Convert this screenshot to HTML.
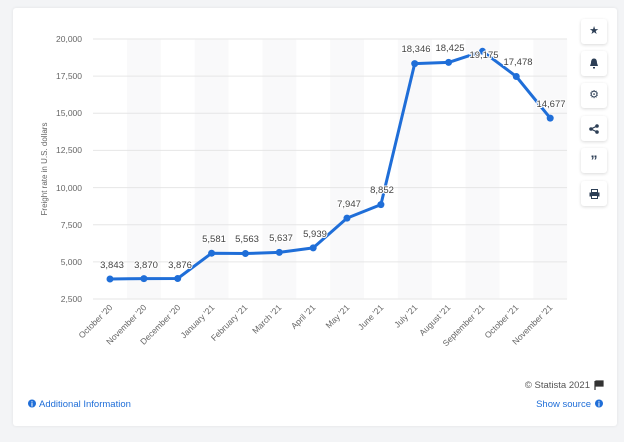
<!DOCTYPE html>
<html><head><meta charset="utf-8"><style>
body{margin:0;width:624px;height:442px;background:#f3f4f6;font-family:"Liberation Sans",sans-serif;overflow:hidden}
.card{position:absolute;left:13px;top:8px;width:604px;height:418px;background:#fff;border-radius:3px;box-shadow:0 0 3px rgba(0,0,0,.08)}
.btn{position:absolute;left:581px;width:26px;height:25px;background:#fff;border-radius:3px;box-shadow:0 1px 3px rgba(0,0,0,.15);color:#2c3e55;font-size:11px;text-align:center;line-height:25px}
</style></head><body>
<div class="card"></div>
<svg width="624" height="442" style="position:absolute;left:0;top:0" font-family="Liberation Sans, sans-serif">
<g fill="#f9f9fa">
<rect x="127" y="39" width="33.9" height="260"/><rect x="194.7" y="39" width="33.9" height="260"/><rect x="262.4" y="39" width="33.9" height="260"/><rect x="330.1" y="39" width="33.9" height="260"/><rect x="397.9" y="39" width="33.9" height="260"/><rect x="465.6" y="39" width="33.9" height="260"/><rect x="533.3" y="39" width="33.9" height="260"/>
</g>
<g stroke="#e6e6e6" stroke-width="1">
<line x1="93" x2="567" y1="39" y2="39"/><line x1="93" x2="567" y1="76.1" y2="76.1"/><line x1="93" x2="567" y1="113.3" y2="113.3"/><line x1="93" x2="567" y1="150.4" y2="150.4"/><line x1="93" x2="567" y1="187.6" y2="187.6"/><line x1="93" x2="567" y1="224.7" y2="224.7"/><line x1="93" x2="567" y1="261.9" y2="261.9"/><line x1="93" x2="567" y1="299" y2="299"/>
</g>
<g font-size="8.5" fill="#666" text-anchor="end">
<text x="82" y="42">20,000</text><text x="82" y="79">17,500</text><text x="82" y="116">15,000</text><text x="82" y="153">12,500</text><text x="82" y="191">10,000</text><text x="82" y="228">7,500</text><text x="82" y="265">5,000</text><text x="82" y="302">2,500</text>
</g>
<text transform="translate(47,169) rotate(-90)" font-size="8" fill="#666" text-anchor="middle">Freight rate in U.S. dollars</text>
<polyline fill="none" stroke="#1f6ed8" stroke-width="3" stroke-linejoin="round" points="110,279 143.9,278.6 177.7,278.5 211.6,253.2 245.4,253.5 279.3,252.4 313.2,247.9 347,218.1 380.9,204.6 414.7,63.6 448.6,62.4 482.5,51.3 516.3,76.5 550.2,118.1"/>
<g fill="#1f6ed8">
<circle cx="110" cy="279" r="3.5"/><circle cx="143.9" cy="278.6" r="3.5"/><circle cx="177.7" cy="278.5" r="3.5"/><circle cx="211.6" cy="253.2" r="3.5"/><circle cx="245.4" cy="253.5" r="3.5"/><circle cx="279.3" cy="252.4" r="3.5"/><circle cx="313.2" cy="247.9" r="3.5"/><circle cx="347" cy="218.1" r="3.5"/><circle cx="380.9" cy="204.6" r="3.5"/><circle cx="414.7" cy="63.6" r="3.5"/><circle cx="448.6" cy="62.4" r="3.5"/><circle cx="482.5" cy="51.3" r="3.5"/><circle cx="516.3" cy="76.5" r="3.5"/><circle cx="550.2" cy="118.1" r="3.5"/>
</g>
<g font-size="9.5" fill="#444" text-anchor="middle" stroke="#fff" stroke-width="2" paint-order="stroke">
<text x="112" y="268">3,843</text><text x="146" y="268">3,870</text><text x="180" y="268">3,876</text><text x="214" y="242">5,581</text><text x="247" y="242">5,563</text><text x="281" y="241">5,637</text><text x="315" y="237">5,939</text><text x="349" y="207">7,947</text><text x="382" y="193">8,852</text><text x="416" y="52">18,346</text><text x="450" y="51">18,425</text><text x="484" y="58">19,175</text><text x="518" y="65">17,478</text><text x="551" y="107">14,677</text>
</g>
<g font-size="8.5" fill="#666" text-anchor="end">
<text transform="translate(113,308) rotate(-45)">October '20</text>
<text transform="translate(147,308) rotate(-45)">November '20</text>
<text transform="translate(181,308) rotate(-45)">December '20</text>
<text transform="translate(215,308) rotate(-45)">January '21</text>
<text transform="translate(248,308) rotate(-45)">February '21</text>
<text transform="translate(282,308) rotate(-45)">March '21</text>
<text transform="translate(316,308) rotate(-45)">April '21</text>
<text transform="translate(350,308) rotate(-45)">May '21</text>
<text transform="translate(384,308) rotate(-45)">June '21</text>
<text transform="translate(418,308) rotate(-45)">July '21</text>
<text transform="translate(451,308) rotate(-45)">August '21</text>
<text transform="translate(485,308) rotate(-45)">September '21</text>
<text transform="translate(519,308) rotate(-45)">October '21</text>
<text transform="translate(553,308) rotate(-45)">November '21</text>
</g>
<text x="590" y="388" font-size="9.5" fill="#555" text-anchor="end">© Statista 2021</text>
<path d="M595 381v9M596 381h7v5h-7z" stroke="#333" fill="#333" stroke-width="1.2"/>
<circle cx="32" cy="403.5" r="4" fill="#1f6ed8"/><text x="32" y="406.5" font-size="7" font-weight="bold" fill="#fff" text-anchor="middle">i</text>
<text x="39" y="407" font-size="9.5" fill="#1f6ed8">Additional Information</text>
<text x="591" y="407" font-size="9.5" fill="#1f6ed8" text-anchor="end">Show source</text>
<circle cx="599" cy="403.5" r="4" fill="#1f6ed8"/><text x="599" y="406.5" font-size="7" font-weight="bold" fill="#fff" text-anchor="middle">i</text>
</svg>
<div class="btn" style="top:19px">★</div>
<div class="btn" style="top:51px"><svg width="10" height="11" style="margin-top:7px"><path d="M5 0.5C2.5 0.5 2 3 2 5L1 8H9L8 5C8 3 7.5 0.5 5 0.5ZM4 9h2v1.5h-2z" fill="#2c3e55"/></svg></div>
<div class="btn" style="top:83px">⚙</div>
<div class="btn" style="top:116px"><svg width="10" height="10" style="margin-top:8px"><circle cx="8" cy="2" r="1.8" fill="#2c3e55"/><circle cx="2" cy="5" r="1.8" fill="#2c3e55"/><circle cx="8" cy="8" r="1.8" fill="#2c3e55"/><path d="M8 2L2 5L8 8" stroke="#2c3e55" fill="none" stroke-width="1.2"/></svg></div>
<div class="btn" style="top:148px;font-weight:bold;font-size:14px">”</div>
<div class="btn" style="top:181px"><svg width="11" height="10" style="margin-top:8px"><rect x="2.5" y="0.5" width="6" height="3" fill="none" stroke="#2c3e55"/><rect x="0.5" y="3.5" width="10" height="4" fill="#2c3e55"/><rect x="2.5" y="6.5" width="6" height="3" fill="#fff" stroke="#2c3e55"/></svg></div>
</body></html>
